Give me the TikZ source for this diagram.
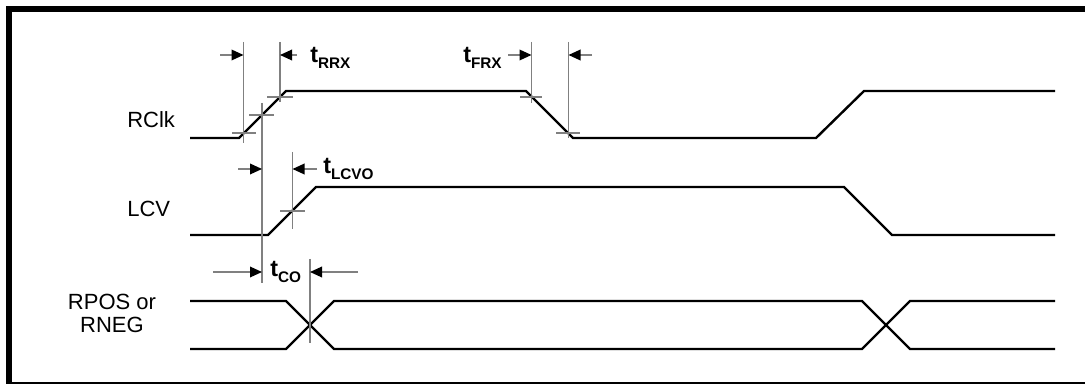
\documentclass[tikz,border=0pt]{standalone}
\usepackage{fontspec}
\setmainfont{Liberation Sans}
\usetikzlibrary{arrows.meta}
\newcommand{\tlab}[1]{{\fontsize{17.5}{17}\selectfont\bfseries t}\raisebox{-4.5pt}{\fontsize{11.5}{12}\selectfont\bfseries #1}}
\tikzset{
  sig/.style={line width=1.8pt, line join=miter, black},
  guide/.style={line width=1pt, draw=black!50},
  dimarrow/.style={guide, -{Triangle[length=9pt,width=8pt,color=black,fill=black]}},
  siglabel/.style={font=\fontsize{16.5}{18}\selectfont, inner sep=0pt},
  tlabel/.style={inner sep=0pt, anchor=base west}
}
\begin{document}
\begin{tikzpicture}[x=0.75pt,y=-0.75pt]
\useasboundingbox (0,0) rectangle (1085,384);
\clip (0,0) rectangle (1085,384);
\fill[white] (0,0) rectangle (1085,384);
% frame
\draw[line width=4.5pt] (9,9) rectangle (1100,385);

% signal labels
\node[siglabel, anchor=base west] (lrclk) at (127,128) {RClk};
\node[siglabel, anchor=base west] (llcv) at (127,217) {LCV};
\node[siglabel, anchor=base] (lrpos) at (112,310) {RPOS or};
\node[siglabel, anchor=base] (lrneg) at (112,333) {RNEG};

% RClk
\draw[sig] (190,138) -- (239,138) -- (286,91) -- (526,91) -- (573,138) -- (816,138) -- (864,91) -- (1055,91);
% LCV
\draw[sig] (190,235) -- (268,235) -- (316,187) -- (844,187) -- (892,235) -- (1055,235);
% RPOS / RNEG
\draw[sig] (190,301) -- (286,301) -- (334,349) -- (862,349) -- (910,301) -- (1055,301);
\draw[sig] (190,349) -- (286,349) -- (334,301) -- (862,301) -- (910,349) -- (1055,349);

% guide coordinates
\coordinate (a1) at (243.5,55);
\coordinate (a2) at (280,55);
\coordinate (f1) at (531.5,55);
\coordinate (f2) at (568.5,55);
\coordinate (l1) at (262,169);
\coordinate (l2) at (292.5,169);
\coordinate (c1) at (262,272);
\coordinate (c2) at (310,272);

% t_RRX guides
\draw[guide] (243.5,42) -- (243.5,143);
\draw[guide] (280,42) -- (280,102);
\draw[guide] (262,103) -- (262,283);
\draw[guide] (232,133) -- (256,133);
\draw[guide] (249,115) -- (274,115);
\draw[guide] (267,97) -- (293,97);
\coordinate (a1s) at (220,55);
\coordinate (a2s) at (297,55);
\draw[dimarrow] (a1s) -- (a1);
\draw[dimarrow] (a2s) -- (a2);
\node[tlabel] (trrx) at (310,63) {\tlab{RRX}};

% t_FRX guides
\draw[guide] (531.5,42) -- (531.5,103);
\draw[guide] (520,97) -- (542,97);
\draw[guide] (568.5,42) -- (568.5,138);
\draw[guide] (556,133) -- (580,133);
\coordinate (f1s) at (508,55);
\coordinate (f2s) at (592,55);
\draw[dimarrow] (f1s) -- (f1);
\draw[dimarrow] (f2s) -- (f2);
\node[tlabel] (tfrx) at (463,63) {\tlab{FRX}};

% t_LCVO guides
\draw[guide] (292.5,152) -- (292.5,229);
\draw[guide] (280,211) -- (305,211);
\coordinate (l1s) at (238,169);
\coordinate (l2s) at (317,169);
\draw[dimarrow] (l1s) -- (l1);
\draw[dimarrow] (l2s) -- (l2);
\node[tlabel] (tlcvo) at (323,174) {\tlab{LCVO}};

% t_CO guides
\draw[guide] (310,259) -- (310,343);
\coordinate (c1s) at (213,272);
\coordinate (c2s) at (358,272);
\draw[dimarrow] (c1s) -- (c1);
\draw[dimarrow] (c2s) -- (c2);
\node[tlabel] (tco) at (270,277) {\tlab{CO}};
\end{tikzpicture}
\end{document}
